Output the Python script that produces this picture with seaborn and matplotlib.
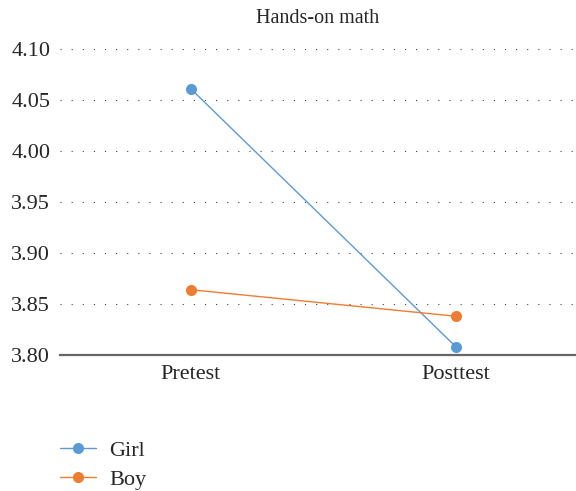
import matplotlib
matplotlib.use("Agg")
import matplotlib.pyplot as plt
import seaborn as sns
import pandas as pd

# values
tests = ["Pretest", "Posttest"]
girl = [4.061, 3.808]
boy = [3.864, 3.838]
groups = ["Girl", "Boy"]
palette = {"Girl": "#5B9BD5", "Boy": "#ED7D31"}
yticks = [3.80, 3.85, 3.90, 3.95, 4.00, 4.05, 4.10]

df = pd.DataFrame({
    "test": tests * 2,
    "score": girl + boy,
    "group": ["Girl"] * 2 + ["Boy"] * 2,
})

sns.set_style("white")
plt.rcParams["font.family"] = ["Liberation Serif", "DejaVu Serif"]

fig = plt.figure(figsize=(5.76, 4.91), dpi=100)
ax = fig.add_axes([0.104, 0.277, 0.896, 0.623])

sns.lineplot(data=df, x="test", y="score", hue="group", hue_order=groups,
             palette=palette, marker="o", markersize=8, markeredgewidth=0,
             linewidth=1, ax=ax)

ax.set_xlim(-0.494, 1.453)
ax.set_ylim(3.80, 4.10)
ax.set_yticks(yticks)
ax.set_yticklabels([f"{v:.2f}" for v in yticks], fontsize=16, color="#262626")
ax.tick_params(axis="x", labelsize=16, labelcolor="#262626", length=0, pad=7)
ax.tick_params(axis="y", length=0, pad=7)
ax.yaxis.grid(True, linestyle=(0, (1, 9)), color="#404040", linewidth=0.8)
ax.set_axisbelow(True)
for s in ["left", "right", "top"]:
    ax.spines[s].set_visible(False)
ax.spines["bottom"].set_color("#666666")
ax.spines["bottom"].set_linewidth(1.6)
ax.spines["bottom"].set_zorder(1)
ax.set_xlabel("")
ax.set_ylabel("")
ax.set_title("Hands-on math", fontsize=14.5, color="#262626", pad=19)

ax.legend(loc="upper left", bbox_to_anchor=(60 / 576, 1 - 440 / 491),
          bbox_transform=fig.transFigure, frameon=False, borderpad=0,
          borderaxespad=0, fontsize=16, handlelength=1.6, handletextpad=0.6,
          labelspacing=0.4, labelcolor="#262626")

fig.savefig("out.png", dpi=100)
plt.close()
